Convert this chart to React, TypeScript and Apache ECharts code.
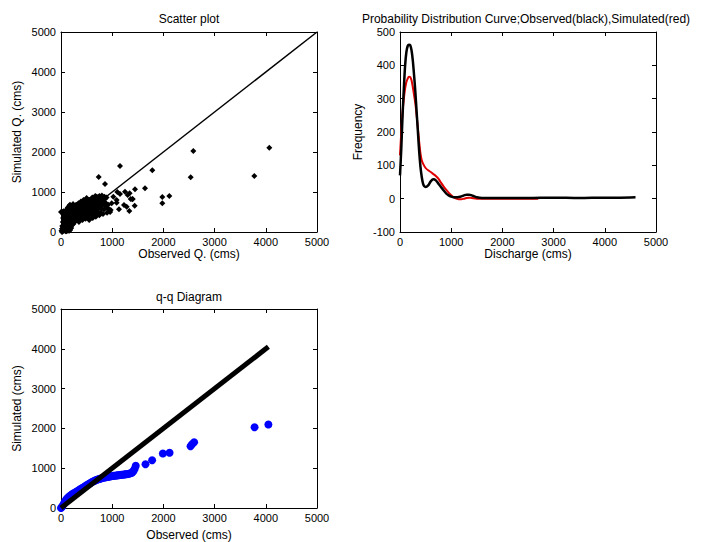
import React, { useEffect, useRef } from "react";
import * as echarts from "echarts";

// Scatter plot: observed vs simulated discharge (paired)
const scatterObs = [
  10, 20, 25, 30, 35, 40, 45, 15, 50, 60, 65, 70, 75, 80, 85, 90, 95, 100, 105, 110,
  115, 120, 125, 130, 135, 140, 145, 150, 155, 160, 165, 170, 175, 180, 185, 190, 195, 200, 205, 210,
  215, 220, 225, 230, 235, 240, 245, 250, 260, 265, 270, 275, 280, 290, 295, 300, 310, 320, 330, 340,
  350, 360, 370, 380, 390, 400, 410, 420, 430, 440, 450, 460, 470, 480, 490, 500, 510, 520, 530, 540,
  550, 560, 570, 580, 590, 600, 610, 620, 630, 640, 650, 660, 670, 680, 690, 700, 710, 720, 730, 740,
  750, 760, 770, 780, 790, 800, 820, 840, 860, 880, 900, 920, 940, 960,
  350, 420, 480, 550, 620, 680, 750, 820, 900, 400, 520, 640,
  60, 90, 110, 130, 150, 170, 190, 210, 230, 250, 270, 290, 180, 200, 140, 160, 120, 40, 70, 100, 130, 160,
  0, 30, 60, 90, 120, 150, 20, 50, 80, 110, 140, 170, 200, 230, 260, 290, 320, 350, 380, 410,
  440, 470, 500, 530, 560, 590, 620, 650, 680, 710, 740, 770, 800, 830, 860, 890, 250, 300, 350, 400,
  450, 500, 550, 600, 650, 700, 750, 800, 850, 300, 380, 460, 540, 620, 700, 780, 860, 200, 260, 320,
  1022, 1087, 1152, 1250, 1302, 1361, 1393, 1439, 1334, 1133, 970, 990, 1087, 1230, 1283,
  736, 859, 1152, 1641, 1784, 1979, 1979, 2116, 2533, 2584, 3776, 4069, 1445, 1400, 1100, 1340,
];
const scatterSim = [
  30, 80, 150, 10, 250, 350, 450, 500, 520, 60, 180, 300, 400, 500, 20, 120, 230, 350, 460, 560,
  80, 190, 300, 420, 520, 620, 40, 150, 260, 380, 480, 580, 680, 100, 220, 330, 440, 540, 640, 160,
  280, 390, 500, 600, 700, 200, 320, 430, 530, 650, 250, 360, 470, 570, 680, 300, 410, 520, 620, 720,
  350, 450, 560, 660, 760, 400, 500, 600, 700, 800, 350, 450, 550, 650, 750, 850, 400, 500, 600, 700,
  800, 330, 450, 550, 650, 750, 860, 400, 500, 600, 700, 800, 900, 450, 550, 650, 750, 850, 500, 600,
  700, 800, 880, 480, 580, 680, 780, 560, 660, 720, 600, 680, 560, 500,
  250, 300, 330, 300, 350, 380, 420, 450, 480, 330, 380, 430,
  400, 450, 300, 200, 350, 250, 450, 350, 300, 250, 400, 350, 50, 100, 100, 30, 40, 120, 220, 60, 600, 650,
  500, 500, 500, 500, 500, 560, 0, 40, 80, 20, 260, 330, 200, 230, 280, 320, 360, 390, 430, 460,
  500, 520, 540, 560, 590, 620, 640, 660, 690, 710, 730, 760, 780, 810, 830, 860, 480, 560, 620, 660,
  700, 760, 800, 820, 860, 880, 900, 910, 880, 360, 420, 480, 520, 560, 590, 630, 700, 380, 440, 520,
  883, 800, 950, 1008, 925, 825, 817, 658, 525, 567, 550, 717, 733, 675, 633,
  1375, 1200, 1650, 1092, 1542, 875, 717, 900, 1367, 2025, 1400, 2108, 1067, 825, 1000, 967,
];

// Probability distribution curves
const pdfObsX = [
  0, 25, 50, 75, 100, 125, 150, 175, 200, 225, 250, 275, 300, 325, 350, 375, 400, 425, 450, 475,
  500, 550, 600, 650, 700, 750, 800, 850, 900, 950, 1000, 1050, 1100, 1150, 1200, 1250, 1300, 1350,
  1400, 1450, 1500, 1600, 1800, 2000, 2500, 3000, 3500, 4000, 4300, 4600,
];
const pdfObsY = [
  70, 150, 250, 330, 400, 440, 458, 462, 460, 445, 415, 370, 320, 260, 200, 140, 95, 65, 45, 37,
  35, 40, 52, 58, 55, 45, 35, 25, 16, 10, 6, 4, 4, 5, 7, 10, 12, 12,
  10, 7, 4, 2, 2, 2, 2, 3, 2, 3, 3, 4,
];
const pdfSimX = [
  0, 25, 50, 75, 100, 125, 150, 175, 200, 225, 250, 275, 300, 325, 350, 375, 400, 425, 450, 500,
  550, 600, 650, 700, 750, 800, 850, 900, 950, 1000, 1050, 1100, 1150, 1200, 1250, 1300, 1350, 1400,
  1500, 1600, 1800, 2000, 2200, 2400, 2700,
];
const pdfSimY = [
  130, 200, 260, 300, 330, 350, 360, 366, 365, 355, 335, 310, 285, 250, 210, 170, 135, 115, 105, 92,
  85, 80, 74, 68, 60, 48, 37, 27, 18, 10, 4, 0, -2, -2, 0, 2, 3, 2,
  0, 0, 0, 0, 0, 0, 0,
];

// q-q diagram (sorted quantiles)
const qqObs = [
  0, 20, 40, 60, 80, 100, 120, 140, 160, 180, 200, 225, 250, 275, 300, 325, 350, 375, 400, 425,
  450, 475, 500, 525, 550, 575, 600, 625, 650, 675, 700, 725, 750, 775, 800, 825, 850, 875, 900, 925,
  950, 975, 1000, 1025, 1050, 1075, 1100, 1125, 1150, 1175, 1200, 1225, 1250, 1275, 1300, 1325, 1350, 1375,
  1400, 1420, 1440, 1460, 1650, 1780, 1990, 2120, 2530, 2560, 2600, 3780, 4050,
];
const qqSim = [
  0, 30, 70, 120, 170, 210, 240, 265, 290, 310, 330, 350, 370, 390, 410, 430, 450, 470, 490, 510,
  530, 550, 570, 590, 610, 630, 650, 665, 680, 695, 710, 720, 730, 740, 750, 758, 765, 772, 780, 786,
  792, 798, 804, 808, 812, 816, 820, 824, 828, 832, 836, 840, 845, 850, 856, 862, 870, 880,
  900, 940, 990, 1060, 1100, 1200, 1370, 1390, 1550, 1600, 1650, 2030, 2100,
];

const oneToOne = [0, 5000];
const qqLine = [0, 4050];

const FONT = "'Liberation Sans', Arial, Helvetica, sans-serif";
const plain = (v: number) => String(v);

function xAx(grid: number, min: number, max: number, interval: number, name: string, gap: number) {
  return {
    type: "value", gridIndex: grid, min, max, interval, position: "bottom",
    name, nameLocation: "middle", nameGap: gap,
    nameTextStyle: { color: "#000", fontSize: 12, fontFamily: FONT },
    axisLine: { show: true, onZero: false, lineStyle: { color: "#000", width: 1 } },
    axisTick: { show: true, inside: true, length: 4, lineStyle: { color: "#000" } },
    axisLabel: { color: "#000", fontSize: 11, fontFamily: FONT, margin: 4, formatter: plain },
    splitLine: { show: false },
  };
}
function xTop(grid: number, min: number, max: number, interval: number) {
  return {
    type: "value", gridIndex: grid, min, max, interval, position: "top",
    axisLine: { show: true, onZero: false, lineStyle: { color: "#000", width: 1 } },
    axisTick: { show: true, inside: true, length: 4, lineStyle: { color: "#000" } },
    axisLabel: { show: false }, splitLine: { show: false },
  };
}
function yAx(grid: number, min: number, max: number, interval: number, name: string, gap: number) {
  return {
    type: "value", gridIndex: grid, min, max, interval, position: "left",
    name, nameLocation: "middle", nameGap: gap,
    nameTextStyle: { color: "#000", fontSize: 12, fontFamily: FONT },
    axisLine: { show: true, onZero: false, lineStyle: { color: "#000", width: 1 } },
    axisTick: { show: true, inside: true, length: 4, lineStyle: { color: "#000" } },
    axisLabel: { color: "#000", fontSize: 11, fontFamily: FONT, margin: 5, formatter: plain },
    splitLine: { show: false },
  };
}
function yRight(grid: number, min: number, max: number, interval: number) {
  return {
    type: "value", gridIndex: grid, min, max, interval, position: "right",
    axisLine: { show: true, onZero: false, lineStyle: { color: "#000", width: 1 } },
    axisTick: { show: true, inside: true, length: 4, lineStyle: { color: "#000" } },
    axisLabel: { show: false }, splitLine: { show: false },
  };
}

export default function App() {
  const ref = useRef<HTMLDivElement>(null);
  useEffect(() => {
    document.body.style.margin = "0";
    const chart = echarts.init(ref.current!, null, { renderer: "svg" });
    const zip = (a: number[], b: number[]) => a.map((v, i) => [v, b[i]]);
    chart.setOption({
      animation: false,
      backgroundColor: "#fff",
      textStyle: { fontFamily: FONT },
      grid: [
        { left: 61, top: 32, width: 256, height: 200 },
        { left: 400, top: 32, width: 256, height: 200 },
        { left: 61, top: 309, width: 256, height: 200 },
      ],
      xAxis: [
        xAx(0, 0, 5000, 1000, "Observed Q. (cms)", 9),
        xAx(1, 0, 5000, 1000, "Discharge (cms)", 9),
        xAx(2, 0, 5000, 1000, "Observed (cms)", 21),
        xTop(0, 0, 5000, 1000),
        xTop(1, 0, 5000, 1000),
        xTop(2, 0, 5000, 1000),
      ],
      yAxis: [
        yAx(0, 0, 5000, 1000, "Simulated Q. (cms)", 38),
        yAx(1, -100, 500, 100, "Frequency", 36),
        yAx(2, 0, 5000, 1000, "Simulated (cms)", 38),
        yRight(0, 0, 5000, 1000),
        yRight(1, -100, 500, 100),
        yRight(2, 0, 5000, 1000),
      ],
      graphic: [
        {
          type: "text", x: 189, y: 19,
          style: { text: "Scatter plot", fontSize: 12, fontFamily: FONT, fill: "#000", align: "center", verticalAlign: "middle" },
        },
        {
          type: "text", x: 526, y: 19,
          style: { text: "Probability Distribution Curve;Observed(black),Simulated(red)", fontSize: 12, fontFamily: FONT, fill: "#000", align: "center", verticalAlign: "middle" },
        },
        {
          type: "text", x: 189, y: 297,
          style: { text: "q-q Diagram", fontSize: 12, fontFamily: FONT, fill: "#000", align: "center", verticalAlign: "middle" },
        },
      ],
      series: [
        {
          type: "line", xAxisIndex: 0, yAxisIndex: 0, data: zip(oneToOne, oneToOne),
          symbol: "none", lineStyle: { color: "#000", width: 1.5 }, z: 3,
        },
        {
          type: "scatter", xAxisIndex: 0, yAxisIndex: 0, data: zip(scatterObs, scatterSim),
          symbol: "diamond", symbolSize: 6, itemStyle: { color: "#000", opacity: 1 }, z: 4,
        },
        {
          type: "line", xAxisIndex: 1, yAxisIndex: 1, data: zip(pdfSimX, pdfSimY),
          symbol: "none", smooth: 0.3, lineStyle: { color: "#e00000", width: 2 }, z: 3,
        },
        {
          type: "line", xAxisIndex: 1, yAxisIndex: 1, data: zip(pdfObsX, pdfObsY),
          symbol: "none", smooth: 0.3, lineStyle: { color: "#000", width: 2.5 }, z: 4,
        },
        {
          type: "scatter", xAxisIndex: 2, yAxisIndex: 2, data: zip(qqObs, qqSim),
          symbol: "circle", symbolSize: 8, itemStyle: { color: "#0000ff", opacity: 1 }, z: 3,
        },
        {
          type: "line", xAxisIndex: 2, yAxisIndex: 2, data: zip(qqLine, qqLine),
          symbol: "none", lineStyle: { color: "#000", width: 5 }, z: 4,
        },
      ],
    });
    return () => chart.dispose();
  }, []);
  return <div ref={ref} style={{ width: 705, height: 542 }} />;
}
